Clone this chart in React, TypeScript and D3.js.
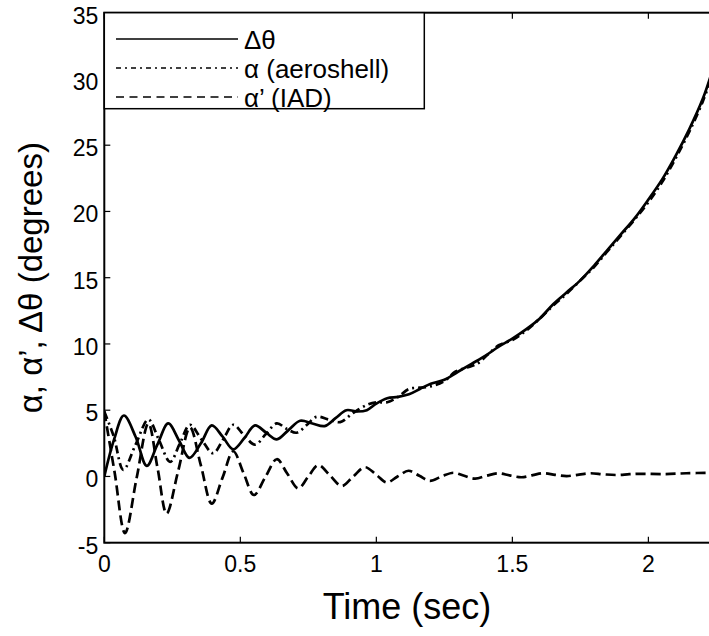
import React from "react";
import * as d3 from "d3";

const dthetaT = [0, 0.036, 0.072, 0.115, 0.156, 0.195, 0.235, 0.275, 0.313, 0.355, 0.395, 0.435, 0.474, 0.515, 0.554, 0.595, 0.634, 0.677, 0.72, 0.765, 0.81, 0.85, 0.89, 0.93, 0.965, 1.0, 1.04, 1.08, 1.12, 1.16, 1.2, 1.25, 1.3, 1.35, 1.4, 1.45, 1.5, 1.55, 1.6, 1.65, 1.7, 1.75, 1.8, 1.85, 1.9, 1.95, 2.0, 2.05, 2.1, 2.15, 2.2, 2.23];
const dthetaV = [0, 2.8, 4.6, 3.0, 0.8, 2.4, 4.0, 2.7, 1.4, 2.5, 3.85, 3.0, 2.05, 2.9, 3.85, 3.3, 2.8, 3.5, 4.2, 4.0, 3.8, 4.4, 5.0, 4.9, 5.0, 5.5, 5.9, 6.0, 6.2, 6.6, 7.0, 7.3, 7.9, 8.5, 9.1, 9.8, 10.4, 11.1, 11.9, 13.0, 13.9, 14.8, 15.9, 17.1, 18.3, 19.5, 20.9, 22.4, 24.2, 26.2, 28.5, 30.3];

const alphaT = [0, 0.035, 0.07, 0.115, 0.162, 0.2, 0.242, 0.278, 0.315, 0.357, 0.4, 0.437, 0.474, 0.514, 0.554, 0.594, 0.634, 0.67, 0.707, 0.745, 0.78, 0.825, 0.867, 0.915, 0.965, 1.0, 1.04, 1.08, 1.12, 1.16, 1.2, 1.25, 1.29, 1.33, 1.37, 1.41, 1.45, 1.5, 1.55, 1.6, 1.65, 1.7, 1.75, 1.8, 1.85, 1.9, 1.95, 2.0, 2.05, 2.1, 2.15, 2.2, 2.23];
const alphaV = [4.9, 3.0, 0.5, 2.4, 4.3, 2.8, 1.1, 2.5, 3.9, 2.8, 1.75, 2.8, 3.9, 3.1, 2.4, 3.2, 4.0, 3.6, 3.3, 3.9, 4.5, 4.3, 4.1, 4.8, 5.4, 5.6, 5.6, 6.0, 6.6, 6.7, 6.8, 7.2, 7.9, 8.2, 8.5, 9.2, 9.9, 10.3, 11.0, 11.9, 12.9, 13.8, 14.8, 15.8, 17.0, 18.2, 19.4, 20.7, 22.2, 24.0, 26.0, 28.3, 30.0];

const alphaPT = [0, 0.038, 0.076, 0.119, 0.162, 0.196, 0.229, 0.272, 0.315, 0.355, 0.395, 0.435, 0.474, 0.512, 0.55, 0.592, 0.634, 0.673, 0.713, 0.75, 0.787, 0.83, 0.873, 0.915, 0.958, 1.0, 1.038, 1.078, 1.118, 1.158, 1.197, 1.24, 1.283, 1.323, 1.363, 1.405, 1.449, 1.49, 1.534, 1.575, 1.614, 1.657, 1.7, 1.745, 1.786, 1.835, 1.884, 1.93, 1.97, 2.06, 2.14, 2.23];
const alphaPV = [4.9, 0.3, -4.27, -0.1, 4.0, 0.6, -2.8, 0.45, 3.7, 0.83, -2.05, -0.07, 1.9, 0.25, -1.4, -0.05, 1.3, 0.2, -0.9, 0.0, 0.85, 0.07, -0.72, 0.0, 0.7, 0.12, -0.45, 0.0, 0.43, 0.05, -0.34, 0.0, 0.28, 0.05, -0.17, 0.05, 0.24, 0.08, -0.06, 0.1, 0.24, 0.12, 0.03, 0.14, 0.24, 0.16, 0.11, 0.17, 0.2, 0.18, 0.24, 0.28];

const xTicks = [0, 0.5, 1, 1.5, 2];
const xTickLabels = ["0", "0.5", "1", "1.5", "2"];
const yTicks = [-5, 0, 5, 10, 15, 20, 25, 30, 35];
const legendLabels = ["\u0394\u03b8", "\u03b1 (aeroshell)", "\u03b1\u2019 (IAD)"];

const W = 709;
const H = 636;
const L = 104.3, R = 710, T = 12.7, B = 542.7;
const FONT = "Arial, 'Liberation Sans', Helvetica, sans-serif";

export default function App() {
  const x = d3.scaleLinear().domain([0, 2.2265]).range([L, R]);
  const y = d3.scaleLinear().domain([-5, 35]).range([B, T]);
  const line = d3
    .line<[number, number]>()
    .x((d) => x(d[0]))
    .y((d) => y(d[1]))
    .curve(d3.curveCatmullRom.alpha(0.5));
  const zip = (a: number[], b: number[]) => a.map((t, i) => [t, b[i]] as [number, number]);

  const series = [
    { pts: zip(dthetaT, dthetaV), dash: "none" },
    { pts: zip(alphaT, alphaV), dash: "8,4,2,4" },
    { pts: zip(alphaPT, alphaPV), dash: "10,5" },
  ];
  const legendDash = ["none", "5,4,2,4", "8,5.5"];
  const legendY = [39, 68, 97];

  return (
    <svg
      width={W}
      height={H}
      style={{ position: "absolute", left: 0, top: 0, background: "#fff" }}
      fontFamily={FONT}
    >
      <defs>
        <clipPath id="plotclip">
          <rect x={L} y={T} width={R - L} height={B - T} />
        </clipPath>
      </defs>
      <rect x={0} y={0} width={W} height={H} fill="#fff" />
      <g clipPath="url(#plotclip)">
        {series.map((s, i) => (
          <path
            key={i}
            d={line(s.pts) || ""}
            fill="none"
            stroke="#000"
            strokeWidth={2.7}
            strokeDasharray={s.dash}
          />
        ))}
      </g>
      <rect x={L} y={T} width={R - L} height={B - T} fill="none" stroke="#000" strokeWidth={2} />
      {xTicks.map((t, i) => (
        <g key={"xt" + i}>
          <line x1={x(t)} x2={x(t)} y1={B} y2={B - 6} stroke="#000" strokeWidth={1.2} />
          <line x1={x(t)} x2={x(t)} y1={T} y2={T + 6} stroke="#000" strokeWidth={1.2} />
          <text x={x(t)} y={B + 21} textAnchor="middle" fontSize={23} dominantBaseline="central">
            {xTickLabels[i]}
          </text>
        </g>
      ))}
      {yTicks.map((v, i) => (
        <g key={"yt" + i}>
          <line x1={L} x2={L + 6} y1={y(v)} y2={y(v)} stroke="#000" strokeWidth={1.2} />
          <text x={L - 6} y={y(v) + 3} textAnchor="end" fontSize={23} dominantBaseline="central">
            {v}
          </text>
        </g>
      ))}
      <rect x={L} y={T} width={320} height={96} fill="#fff" stroke="#000" strokeWidth={1.5} />
      {legendLabels.map((lab, i) => (
        <g key={"lg" + i}>
          <line x1={116} x2={238} y1={legendY[i]} y2={legendY[i]} stroke="#000" strokeWidth={1.6} strokeDasharray={legendDash[i]} />
          <text x={244} y={legendY[i] + 1} fontSize={26} dominantBaseline="central">
            {lab}
          </text>
        </g>
      ))}
      <text x={407} y={606} textAnchor="middle" fontSize={36} dominantBaseline="central">
        Time (sec)
      </text>
      <text
        transform={`translate(30, ${(T + B) / 2}) rotate(-90)`}
        textAnchor="middle"
        fontSize={33}
        dominantBaseline="central"
      >
        {"\u03b1, \u03b1\u2019, \u0394\u03b8 (degrees)"}
      </text>
    </svg>
  );
}
